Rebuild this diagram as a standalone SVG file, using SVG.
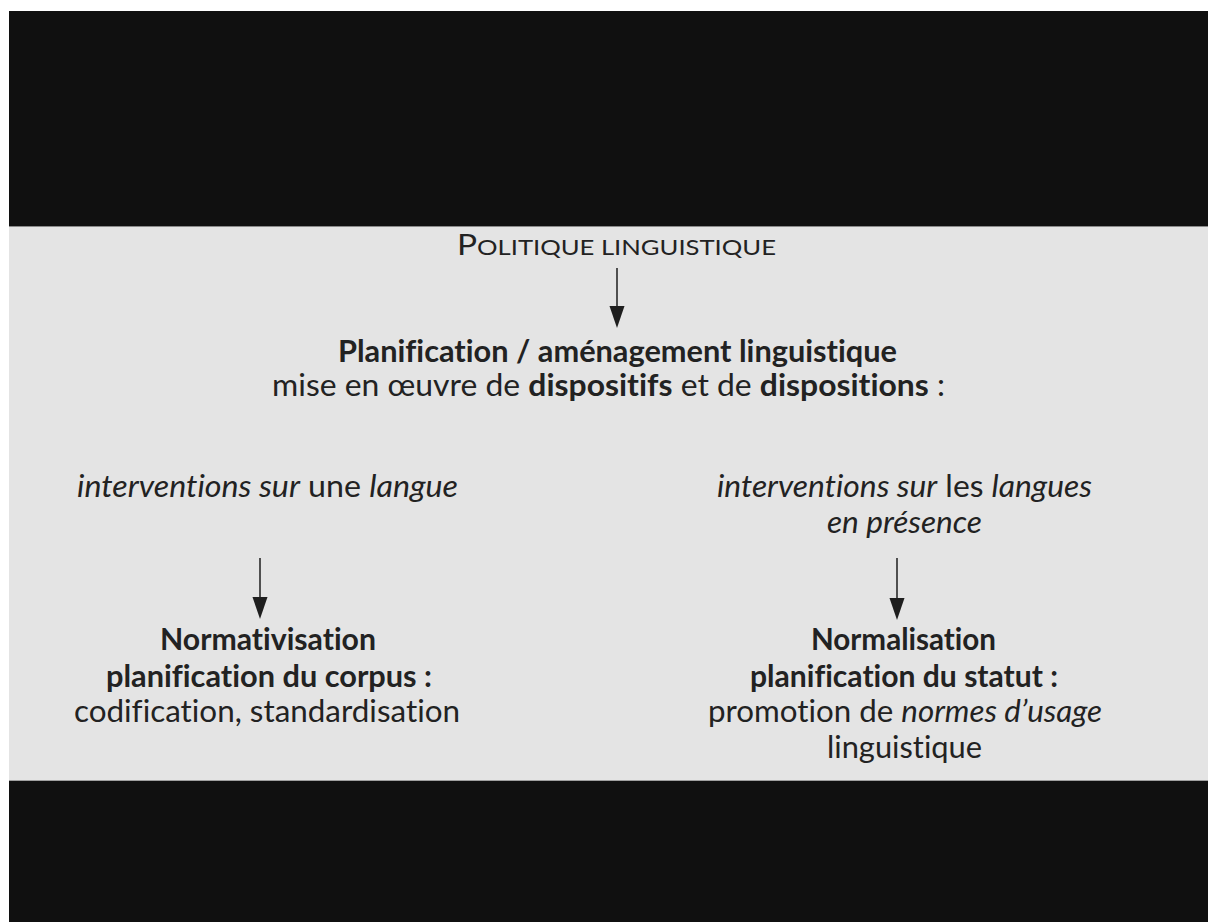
<svg xmlns="http://www.w3.org/2000/svg" width="1208" height="922" viewBox="0 0 1208 922">
<style>
text{font-family:Lato,"Noto Sans","DejaVu Sans",sans-serif;fill:#222;text-anchor:middle;font-size:30px;font-variant-ligatures:none;font-feature-settings:"liga" 0,"clig" 0}
.b{font-weight:bold}
.i{font-style:italic}
.c{stroke:#2a2a2a;stroke-width:1.6;fill:none}
.h{fill:#1e1e1e}
</style>
<rect x="0" y="0" width="1208" height="922" fill="#ffffff"/>
<rect x="9" y="11" width="1199" height="911" fill="#101010"/>
<rect x="9" y="226" width="1199" height="555" fill="#e4e4e4"/>
<line x1="9" y1="226.5" x2="1208" y2="226.5" stroke="#8a8a8a" stroke-width="1"/>
<line x1="9" y1="780.5" x2="1208" y2="780.5" stroke="#a0a0a0" stroke-width="1"/>

<g id="connectors">
<path class="c" d="M617,268 V306"/>
<path class="h" d="M609.5,306 L624.5,306 L617,328 Z"/>
<path class="c" d="M260,558 V597"/>
<path class="h" d="M252.5,597 L267.5,597 L260,619 Z"/>
<path class="c" d="M897,558 V598"/>
<path class="h" d="M889.5,598 L904.5,598 L897,620 Z"/>
</g>

<g id="politique">
<text x="616.5" y="255" textLength="319" lengthAdjust="spacingAndGlyphs"><tspan font-size="28">P</tspan><tspan font-size="21.5">OLITIQUE LINGUISTIQUE</tspan></text>
</g>

<g id="planification">
<text class="b" x="617.5" y="362" textLength="559" lengthAdjust="spacingAndGlyphs">Planification / aménagement linguistique</text>
<text x="608.5" y="396" textLength="673" lengthAdjust="spacingAndGlyphs">mise en œuvre de <tspan class="b">dispositifs</tspan> et de <tspan class="b">dispositions</tspan> :</text>
</g>

<g id="gauche">
<text x="267.5" y="497" textLength="381" lengthAdjust="spacingAndGlyphs"><tspan class="i">interventions sur</tspan> une <tspan class="i">langue</tspan></text>
</g>

<g id="droite">
<text x="904.5" y="497" textLength="375" lengthAdjust="spacingAndGlyphs"><tspan class="i">interventions sur</tspan> les <tspan class="i">langues</tspan></text>
<text class="i" x="904.5" y="533" textLength="155" lengthAdjust="spacingAndGlyphs">en présence</text>
</g>

<g id="normativisation">
<text class="b" x="268" y="650" textLength="216" lengthAdjust="spacingAndGlyphs">Normativisation</text>
<text class="b" x="269" y="687" textLength="326" lengthAdjust="spacingAndGlyphs">planification du corpus :</text>
<text x="267" y="722" textLength="386" lengthAdjust="spacingAndGlyphs">codification, standardisation</text>
</g>

<g id="normalisation">
<text class="b" x="903.5" y="650" textLength="185" lengthAdjust="spacingAndGlyphs">Normalisation</text>
<text class="b" x="904" y="687" textLength="308" lengthAdjust="spacingAndGlyphs">planification du statut :</text>
<text x="905" y="722" textLength="394" lengthAdjust="spacingAndGlyphs">promotion de <tspan class="i">normes d’usage</tspan></text>
<text x="904.5" y="758" textLength="155" lengthAdjust="spacingAndGlyphs">linguistique</text>
</g>
</svg>
